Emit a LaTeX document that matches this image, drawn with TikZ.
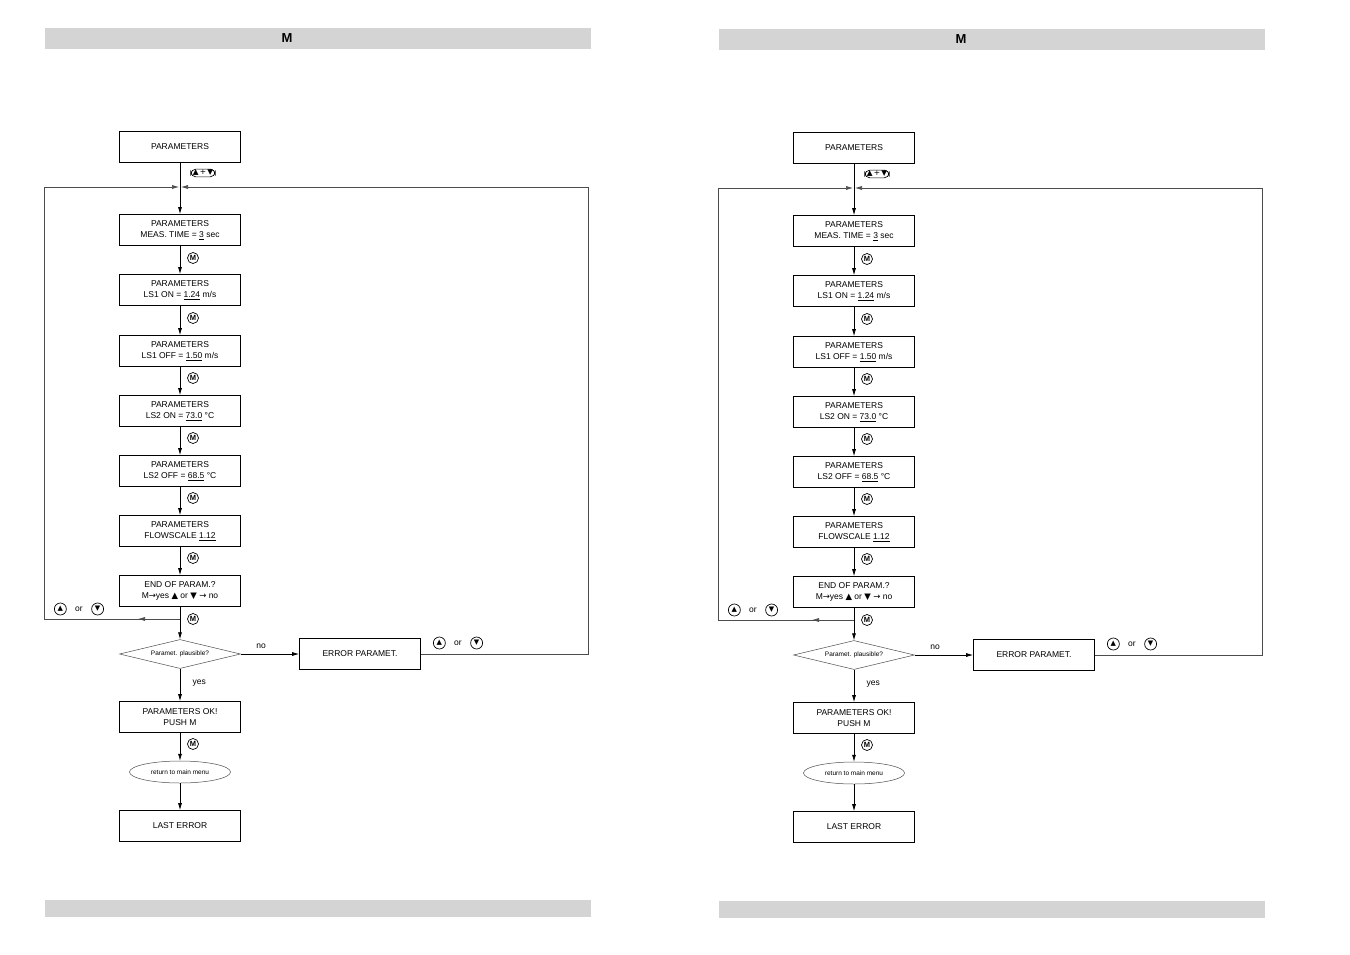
\documentclass[tikz,border=0pt]{standalone}
\usepackage{fontspec}
\setmainfont{Liberation Sans}
\newfontfamily\djv{DejaVu Sans}
\usetikzlibrary{shapes.geometric,arrows.meta}
\definecolor{bar}{HTML}{D4D4D4}
\newcommand{\mbtn}{\tikz[baseline=-0.6ex]\node[circle,draw,line width=0.7pt,inner sep=0.8pt,minimum size=11pt,font=\fontsize{7.5}{7.5}\selectfont\bfseries]{M};}
\newcommand{\ubtn}{\tikz[baseline=-0.6ex]\node[circle,draw,line width=0.7pt,inner sep=0.5pt,minimum size=12pt,font=\djv\fontsize{7}{7}\selectfont]{▲};}
\newcommand{\dbtn}{\tikz[baseline=-0.6ex]\node[circle,draw,line width=0.7pt,inner sep=0.5pt,minimum size=12pt,font=\djv\fontsize{7}{7}\selectfont]{▼};}
\tikzset{
  box/.style={draw,line width=0.7pt,minimum width=121pt,minimum height=31pt,align=center,inner sep=1pt,font=\fontsize{8.5}{11.5}\selectfont},
  flow/.style={line width=0.7pt,-{Latex[length=7pt,width=4pt]}},
  loop/.style={line width=0.6pt,draw=black!70},
  lbl/.style={font=\fontsize{8.5}{9}\selectfont},
}
\begin{document}
\begin{tikzpicture}[x=1pt,y=-1pt]
\useasboundingbox (0,0) rectangle (1350,954);
\foreach \o/\d in {0/0,674/1}{
\begin{scope}[shift={(\o,\d)}]
\fill[bar] (45,28) rectangle (591,49);
\node[font=\fontsize{13}{13}\selectfont\bfseries] (hm\o) at (287,38) {M};
\fill[bar] (45,900) rectangle (591,917);
\node[box] (a\o) at (180,147) {PARAMETERS};
\node[box] (b\o) at (180,230) {PARAMETERS\\MEAS. TIME = \underline{3} sec};
\node[box] (c\o) at (180,290) {PARAMETERS\\LS1 ON = \underline{1.24} m/s};
\node[box] (d\o) at (180,351) {PARAMETERS\\LS1 OFF = \underline{1.50} m/s};
\node[box] (e\o) at (180,411) {PARAMETERS\\LS2 ON = \underline{73.0} °C};
\node[box] (f\o) at (180,471) {PARAMETERS\\LS2 OFF = \underline{68.5} °C};
\node[box] (g\o) at (180,531) {PARAMETERS\\FLOWSCALE \underline{1.12}};
\node[box] (h\o) at (180,591) {END OF PARAM.?\\M{\djv→}yes {\djv▲} or {\djv▼} {\djv→} no};
\node[diamond,draw,line width=0.5pt,draw=black!70,minimum width=121pt,minimum height=29pt,aspect=4.2,inner sep=0pt,font=\fontsize{6.5}{7}\selectfont] (q\o) at (180,654) {Paramet. plausible?};
\node[box] (r\o) at (360,654) {ERROR PARAMET.};
\node[box] (s\o) at (180,717) {PARAMETERS OK!\\PUSH M};
\node[ellipse,draw,line width=0.5pt,draw=black!70,minimum width=101pt,minimum height=22pt,inner sep=0pt,font=\fontsize{6.5}{7}\selectfont] (t\o) at (180,772) {return to main menu};
\node[box] (u\o) at (180,826) {LAST ERROR};
\coordinate (j\o) at (180,187);
\coordinate (l1\o) at (44,187);
\coordinate (l2\o) at (44,619);
\coordinate (k\o) at (180,619);
\coordinate (ka\o) at (138,619);
\coordinate (r1\o) at (588,654);
\coordinate (r2\o) at (588,187);
\draw[line width=0.7pt] (a\o) -- (j\o);
\draw[flow] (j\o) -- (b\o);
\foreach \p/\n/\y in {b/c/258,c/d/318,d/e/378,e/f/438,f/g/498,g/h/558,h/q/619,s/t/744}{
  \draw[flow] (\p\o) -- (\n\o);
  \node[inner sep=0pt] (m\p\n\o) at (193,\y) {\mbtn};
}
\draw[flow] (t\o) -- (u\o);
\draw[flow] (q\o) -- node[lbl,pos=0.45,right=9pt]{yes} (s\o);
\draw[flow] (q\o) -- node[lbl,above=2pt,pos=0.35]{no} (r\o);
\draw[loop] (k\o) -- (l2\o) -- (l1\o);
\draw[loop,-{Latex[length=7pt,width=4pt]}] (k\o) -- (ka\o);
\draw[loop,-{Latex[length=7pt,width=4pt]}] (l1\o) -- ([xshift=-1pt]j\o);
\draw[loop] (r\o) -- (r1\o) -- (r2\o);
\draw[loop,-{Latex[length=7pt,width=4pt]}] (r2\o) -- ([xshift=1pt]j\o);
\node[draw,rounded corners=5pt,line width=0.7pt,inner xsep=2pt,inner ysep=1pt,font=\djv\fontsize{7.5}{8}\selectfont] (ud\o) at (203,173) {▲\,+\,▼};
\node[lbl,inner sep=0pt] (o1\o) at (79,609) {\ubtn\quad or\quad\dbtn};
\node[lbl,inner sep=0pt] (o2\o) at (458,643) {\ubtn\quad or\quad\dbtn};
\end{scope}
}
\end{tikzpicture}
\end{document}
